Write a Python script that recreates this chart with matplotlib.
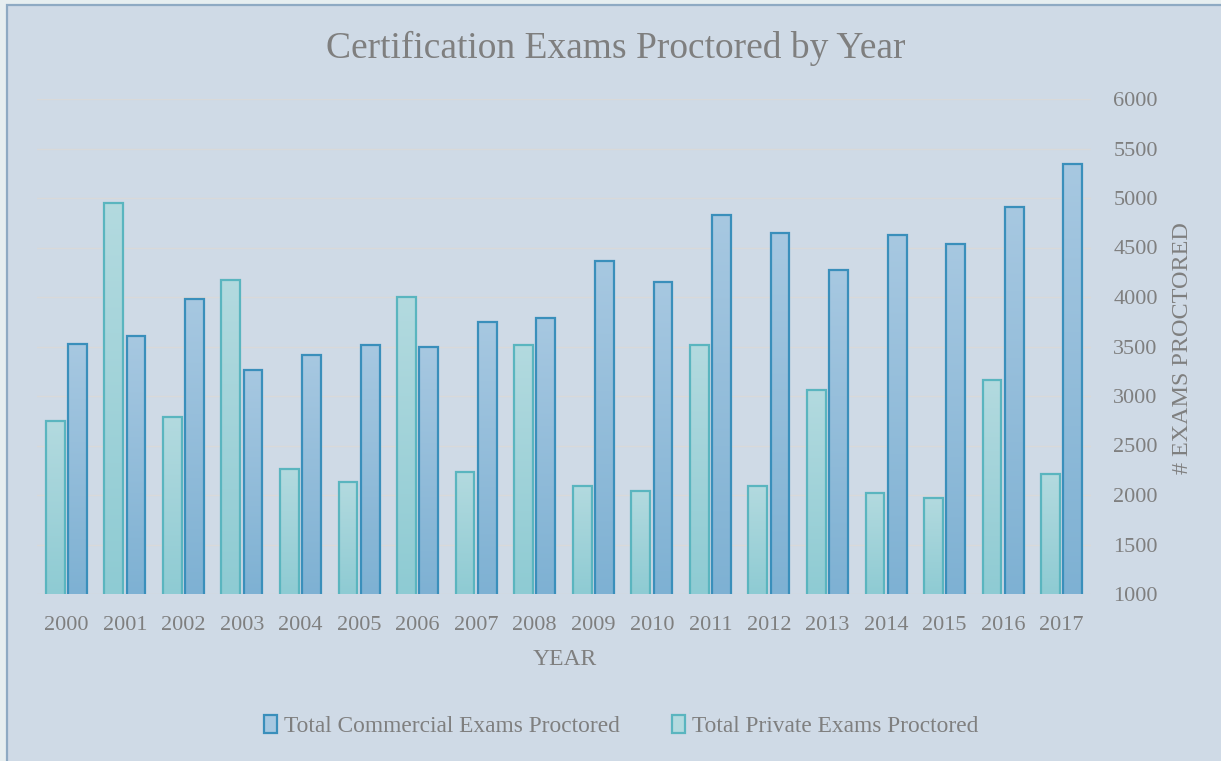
import numpy as np
import matplotlib
matplotlib.use("Agg")
import matplotlib.pyplot as plt
from matplotlib.patches import Rectangle, Patch
from matplotlib.colors import LinearSegmentedColormap

# Data
years = [str(y) for y in range(2000, 2018)]
private = [2747, 4953, 2791, 4172, 2259, 2131, 4003, 2229, 3519,
           2091, 2040, 3519, 2091, 3057, 2020, 1970, 3162, 2212]
commercial = [3525, 3606, 3980, 3263, 3414, 3515, 3498, 3751, 3785,
              4360, 4148, 4828, 4650, 4273, 4626, 4539, 4912, 5340]
yticks = [1000, 1500, 2000, 2500, 3000, 3500, 4000, 4500, 5000, 5500, 6000]

FONT = "Liberation Serif"
TXT = "#7f7f7f"
BG = "#cfdae6"

teal_top, teal_bot, teal_edge = "#b3dadf", "#8ecbd3", "#5ab5bf"
blue_top, blue_bot, blue_edge = "#a7c8e1", "#7eb1d3", "#3a8fbb"

fig = plt.figure(figsize=(12.21, 7.61), dpi=100, facecolor="#e6eef0")
# chart area box
fig.patches.append(Rectangle((7 / 1221, -0.1), 1.2, 1.1 - 5 / 761, transform=fig.transFigure,
                             fc=BG, ec="#8eaac3", lw=1.6, zorder=-10))

ax = fig.add_axes([37 / 1221, 1 - 594 / 761, 1054 / 1221, 495 / 761])
ax.set_facecolor("none")
ax.set_zorder(1)

x = np.arange(len(years))
w = 0.32
off = 0.19
ymin, ymax = 1000, 6000


def gradient_bars(bars, top, bot, edge):
    cmap = LinearSegmentedColormap.from_list("g", [bot, top])
    grad = np.linspace(0, 1, 256).reshape(-1, 1)
    for b in bars:
        x0, w0, h = b.get_x(), b.get_width(), b.get_height()
        im = ax.imshow(grad, extent=(x0, x0 + w0, ymin, h), origin="lower",
                       aspect="auto", cmap=cmap, zorder=2)
        im.set_clip_path(b)
        b.set_facecolor("none")
        b.set_edgecolor(edge)
        b.set_linewidth(1.6)
        b.set_zorder(3)


pb = ax.bar(x - off, private, w)
cb = ax.bar(x + off, commercial, w)
gradient_bars(pb, teal_top, teal_bot, teal_edge)
gradient_bars(cb, blue_top, blue_bot, blue_edge)

ax.set_xlim(-0.5, len(years) - 0.5)
ax.set_ylim(ymin, ymax)
ax.set_yticks(yticks)
ax.yaxis.tick_right()
ax.set_xticks(x)
ax.set_xticklabels(years)
ax.grid(axis="y", color="#d9d9d9", lw=1)
ax.set_axisbelow(True)
for s in ax.spines.values():
    s.set_visible(False)
ax.tick_params(axis="both", length=0, labelsize=16, labelcolor=TXT)
ax.tick_params(axis="y", pad=16)
ax.tick_params(axis="x", pad=15.5)
for lab in ax.get_xticklabels() + ax.get_yticklabels():
    lab.set_fontfamily(FONT)

ax.set_xlabel("YEAR", fontsize=17, color=TXT, family=FONT)
ax.xaxis.set_label_coords(0.501, -0.112)
ax.yaxis.set_label_position("right")
ax.set_ylabel("# EXAMS PROCTORED", fontsize=17.4, color=TXT, family=FONT)
ax.yaxis.set_label_coords(1.077, 0.496)

fig.text(616 / 1221, 1 - 48 / 761, "Certification Exams Proctored by Year",
         ha="center", va="center", fontsize=27, color=TXT, family=FONT)

handles = [Patch(fc=blue_top, ec=blue_edge, lw=1.6, label="Total Commercial Exams Proctored"),
           Patch(fc=teal_top, ec=teal_edge, lw=1.6, label="Total Private Exams Proctored")]
fig.legend(handles=handles, loc="center", bbox_to_anchor=(621 / 1221, 1 - 726 / 761),
           ncol=2, frameon=False, handlelength=0.55, handleheight=0.8,
           handletextpad=0.3, columnspacing=2.25,
           prop={"family": FONT, "size": 16.8}, labelcolor=TXT)

fig.savefig("out.png", dpi=100, facecolor=fig.get_facecolor())
